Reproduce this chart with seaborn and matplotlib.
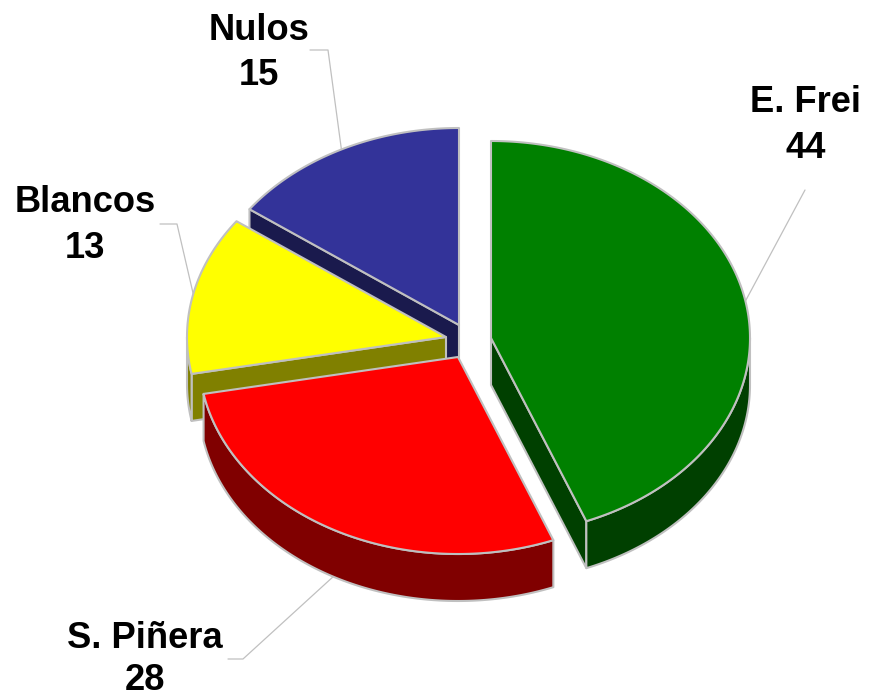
import numpy as np
import matplotlib
matplotlib.use("Agg")
import matplotlib.pyplot as plt
import seaborn as sns

categories = ["E. Frei", "S. Piñera", "Blancos", "Nulos"]
values = [44, 28, 13, 15]
top_colors = ["#008000", "#FF0000", "#FFFF00", "#333399"]
side_colors = ["#004000", "#800000", "#808000", "#1A1A4D"]

sns.set_theme(style="white")
plt.rcParams["font.family"] = ["Liberation Sans", "DejaVu Sans"]

fig = plt.figure(figsize=(8.7, 6.98), dpi=100)
ax = fig.add_axes([0, 0, 1, 1])
ax.set_xlim(0, 870)
ax.set_ylim(698, 0)
ax.axis("off")

RX, RY, DEPTH = 259, 197, 47
EDGE = "#C0C0C0"
apexes = {"E. Frei": (491, 338), "S. Piñera": (458, 357), "Blancos": (446, 337), "Nulos": (459, 325)}
label_pos = {"E. Frei": (806, 102), "S. Piñera": (145, 637), "Blancos": (85, 202), "Nulos": (259, 29)}
elbows = {"E. Frei": [(805, 190)], "S. Piñera": [(243, 659), (228, 659)],
          "Blancos": [(177, 224), (160, 224)], "Nulos": [(328, 50), (310, 50)]}

fractions = np.array(values, dtype=float) / sum(values)
ends = np.cumsum(fractions) * 2 * np.pi
starts = ends - fractions * 2 * np.pi


def rim(cx, cy, a0, a1, n=200):
    t = np.linspace(a0, a1, n)
    return cx + RX * np.sin(t), cy - RY * np.cos(t)


def shape(xs, ys, face, z):
    ax.fill(xs, ys, facecolor=face, edgecolor=EDGE, linewidth=1.5, joinstyle="round", zorder=z)


# back to front: Nulos, Blancos, S. Piñera, E. Frei
for z, i in enumerate([3, 2, 1, 0]):
    cx, cy = apexes[categories[i]]
    a0, a1 = starts[i], ends[i]
    side, top = side_colors[i], top_colors[i]
    base = 2 * z + 1
    # cut faces that look towards the viewer
    for a, visible in ((a0, np.sin(a0) < -1e-6), (a1, np.sin(a1) > 1e-6)):
        if visible:
            x, y = rim(cx, cy, a, a, 1)
            shape([cx, x[0], x[0], cx], [cy, y[0], y[0] + DEPTH, cy + DEPTH], side, base)
    # outer wall: only the part of the rim facing the viewer
    w0, w1 = max(a0, np.pi / 2), min(a1, 3 * np.pi / 2)
    if w1 > w0:
        x, y = rim(cx, cy, w0, w1)
        shape(np.r_[x, x[::-1]], np.r_[y, y[::-1] + DEPTH], side, base)
    # top surface
    x, y = rim(cx, cy, a0, a1)
    shape(np.r_[cx, x], np.r_[cy, y], top, base + 1)

for i, name in enumerate(categories):
    cx, cy = apexes[name]
    mid = (starts[i] + ends[i]) / 2
    px, py = rim(cx, cy, mid, mid, 1)
    py = py + (DEPTH if np.cos(mid) < -0.3 else 0)
    pts = [(px[0], py[0])] + elbows[name]
    ax.plot(*zip(*pts), color=EDGE, lw=0.9, zorder=0)
    lx, ly = label_pos[name]
    ax.text(lx, ly + 1, name, ha="center", va="center", fontsize=26.2, fontweight="bold", color="black", zorder=21)
    ax.text(lx, min(ly + 46.5, 680.5), str(values[i]), ha="center", va="center", fontsize=26.2, fontweight="bold", color="black", zorder=21)

sns.despine(ax=ax, left=True, bottom=True)
fig.savefig("out.png", dpi=100, facecolor="white")
